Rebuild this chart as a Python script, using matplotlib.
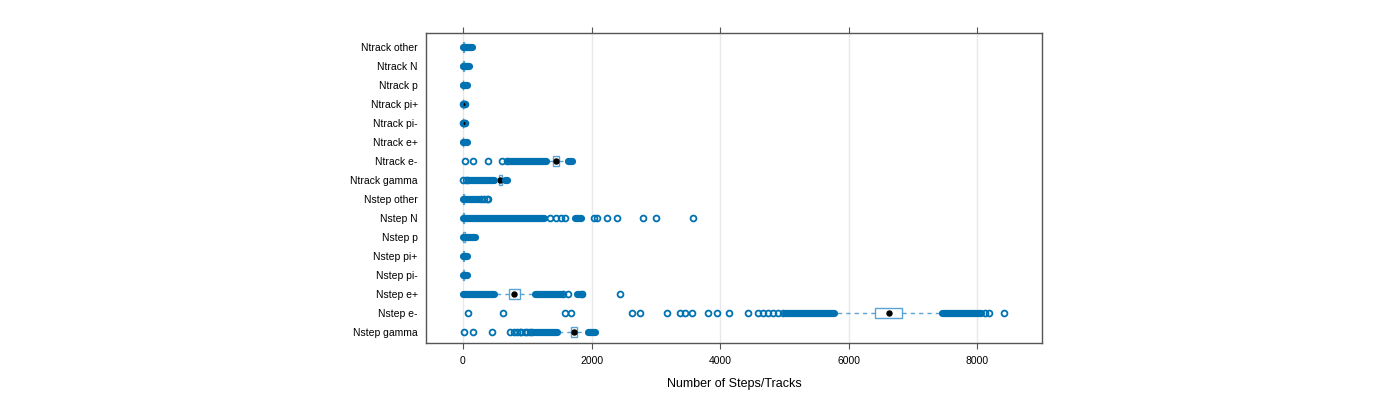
import numpy as np
import matplotlib
matplotlib.use("Agg")
import matplotlib.pyplot as plt

plt.rcParams['font.family'] = ['Liberation Sans', 'DejaVu Sans']

# categories, bottom to top
categories = ["Nstep gamma", "Nstep e-", "Nstep e+", "Nstep pi-", "Nstep pi+",
              "Nstep p", "Nstep N", "Nstep other", "Ntrack gamma", "Ntrack e-",
              "Ntrack e+", "Ntrack pi-", "Ntrack pi+", "Ntrack p", "Ntrack N",
              "Ntrack other"]

# box statistics
q1 =    [1675, 6410, 720, 5, 5, 8, 5, 5, 555, 1395, 3, 0, 0, 3, 5, 5]
med =   [1725, 6620, 800, 10, 10, 15, 10, 10, 580, 1440, 5, 2, 2, 5, 8, 10]
q3 =    [1780, 6825, 885, 15, 15, 25, 15, 15, 605, 1490, 8, 5, 5, 8, 12, 15]
wlo =   [1490, 5790, 480, 0, 0, 0, 0, 0, 490, 1300, 0, 0, 0, 0, 0, 0]
whi =   [1945, 7440, 1120, 25, 25, 40, 25, 25, 640, 1560, 15, 10, 10, 15, 20, 25]

# single outliers (open circles)
outliers = [
    [20, 160, 445, 730, 790, 835, 880, 910, 960, 990, 1040, 1070],
    [85, 615, 1590, 1675, 2625, 2755, 3170, 3375, 3455, 3560, 3815, 3945,
     4130, 4440, 4590, 4670, 4745, 4825, 4900, 4980, 8120, 8175, 8410],
    [1560, 1640, 1845, 2445],
    [],
    [],
    [],
    [1355, 1450, 1525, 1590, 2045, 2080, 2235, 2390, 2805, 3000, 3585],
    [280, 330, 370, 390],
    [0, 40, 80],
    [30, 155, 390, 600, 680],
    [],
    [0, 15, 25],
    [0, 15, 25],
    [],
    [],
    [],
]

# dense runs of outliers (start, end)
runs = [
    [(1110, 1470), (1950, 2050)],
    [(5010, 5770), (7450, 8050)],
    [(0, 475), (1125, 1530), (1780, 1850)],
    [(0, 70)],
    [(0, 70)],
    [(0, 190)],
    [(0, 1260), (1740, 1830)],
    [(0, 250)],
    [(110, 480), (650, 690)],
    [(700, 1290), (1630, 1700)],
    [(0, 60)],
    [],
    [],
    [(0, 55)],
    [(0, 95)],
    [(0, 145)],
]

xticks = [0, 2000, 4000, 6000, 8000]

blue = "#0072B2"
box_col = "#5AA3D6"

fig = plt.figure(figsize=(14, 4), dpi=100)
ax = fig.add_axes([426 / 1400, 57 / 400, 616 / 1400, 310 / 400])

pos = np.arange(1, len(categories) + 1)

for x in xticks:
    ax.axvline(x, color="#e8e8e8", lw=1, zorder=0)

stats = []
for i in range(len(categories)):
    stats.append(dict(med=med[i], q1=q1[i], q3=q3[i], whislo=wlo[i],
                      whishi=whi[i], fliers=[]))
ax.bxp(stats, positions=pos, widths=0.5, orientation='horizontal',
       showcaps=False, showfliers=False, patch_artist=True,
       boxprops=dict(facecolor="white", edgecolor=box_col, lw=1),
       whiskerprops=dict(color=box_col, lw=1, ls=(0, (3, 3))),
       medianprops=dict(visible=False), zorder=2)
ax.plot(med, pos, "o", color="black", ms=3.6, zorder=3)

for i, y in enumerate(pos):
    for a, b in runs[i]:
        ax.plot([a, b], [y, y], color=blue, lw=5.2, solid_capstyle="round",
                zorder=4)
    if outliers[i]:
        ax.plot(outliers[i], [y] * len(outliers[i]), "o", mfc="none",
                mec=blue, ms=4.2, mew=1.3, zorder=5)

ax.set_xlim(-575, 9005)
ax.set_ylim(0.42, 16.74)
ax.set_yticks(pos)
ax.set_yticklabels(categories, fontsize=7.5)
ax.set_xticks(xticks)
ax.set_xticklabels([str(x) for x in xticks], fontsize=7.5)
ax.tick_params(axis="y", length=0, pad=6)
ax.tick_params(axis="x", top=True, bottom=True, direction="out", length=4,
               color="#555555", pad=5)
for s in ax.spines.values():
    s.set_color("#555555")
    s.set_linewidth(1)
ax.set_xlabel("Number of Steps/Tracks", fontsize=9, labelpad=9)

fig.savefig("out.png", dpi=100)
